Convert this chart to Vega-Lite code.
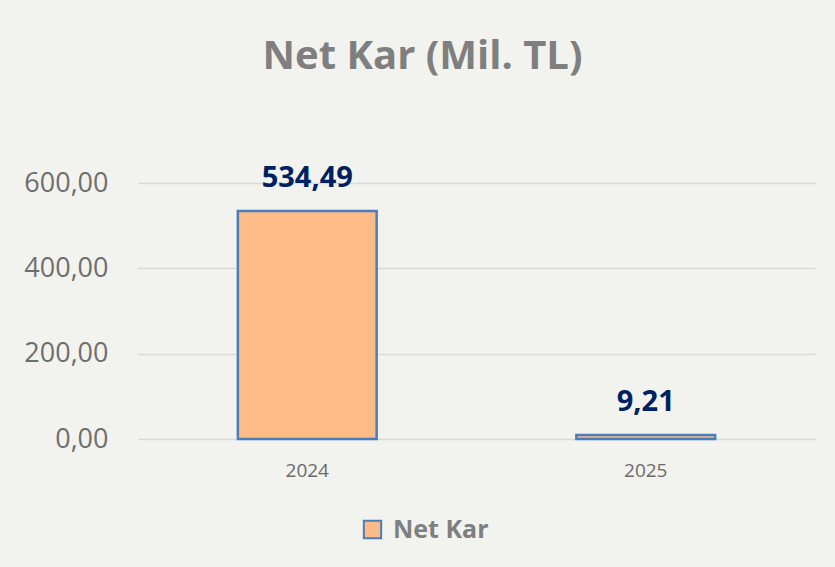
{
  "$schema": "https://vega.github.io/schema/vega-lite/v6.json",
  "autosize": "none",
  "width": 677,
  "height": 256,
  "padding": {"left": 138, "top": 183, "right": 20, "bottom": 128},
  "background": "#f2f2ee",
  "config": {
    "view": {"stroke": null},
    "font": "Open Sans"
  },
  "title": {
    "text": "Net Kar (Mil. TL)",
    "font": "Open Sans",
    "fontSize": 40,
    "fontWeight": "bold",
    "color": "#7f7f7f",
    "anchor": "middle",
    "dx": -54,
    "offset": 87
  },
  "data": {
    "values": [
      {"year": "2024", "value": 534.49, "label": "534,49", "series": "Net Kar"},
      {"year": "2025", "value": 9.21, "label": "9,21", "series": "Net Kar"}
    ]
  },
  "encoding": {
    "x": {
      "field": "year",
      "type": "nominal",
      "scale": {"paddingInner": 0.59, "paddingOuter": 0.295},
      "axis": {
        "title": null,
        "labelAngle": 0,
        "labelFontSize": 19,
        "labelColor": "#6a6a6a",
        "labelPadding": 22,
        "ticks": false,
        "domain": false
      }
    },
    "y": {
      "field": "value",
      "type": "quantitative",
      "scale": {"domain": [0, 600], "nice": false},
      "axis": {
        "title": null,
        "values": [0, 200, 400, 600],
        "labelExpr": "replace(format(datum.value, '.2f'), '.', ',')",
        "labelFontSize": 27,
        "labelColor": "#6e6e6e",
        "labelPadding": 30,
        "ticks": false,
        "domain": false,
        "gridColor": "#d9d9d9",
        "gridWidth": 1.3
      }
    }
  },
  "layer": [
    {
      "mark": {"type": "bar", "stroke": "#4a7ebb", "strokeWidth": 2.5},
      "encoding": {
        "color": {
          "field": "series",
          "type": "nominal",
          "scale": {"range": ["#fdbb88"]},
          "legend": {
            "title": null,
            "orient": "none",
            "legendX": 222,
            "legendY": 334,
            "symbolType": "square",
            "symbolSize": 300,
            "symbolStrokeColor": "#4a7ebb",
            "symbolStrokeWidth": 2,
            "labelFontSize": 25,
            "labelFontWeight": "bold",
            "labelColor": "#7f7f7f",
            "labelOffset": 8
          }
        }
      }
    },
    {
      "mark": {
        "type": "text",
        "baseline": "alphabetic",
        "dy": -24,
        "fontSize": 29,
        "fontWeight": "bold",
        "color": "#002060"
      },
      "encoding": {"text": {"field": "label"}}
    }
  ]
}
